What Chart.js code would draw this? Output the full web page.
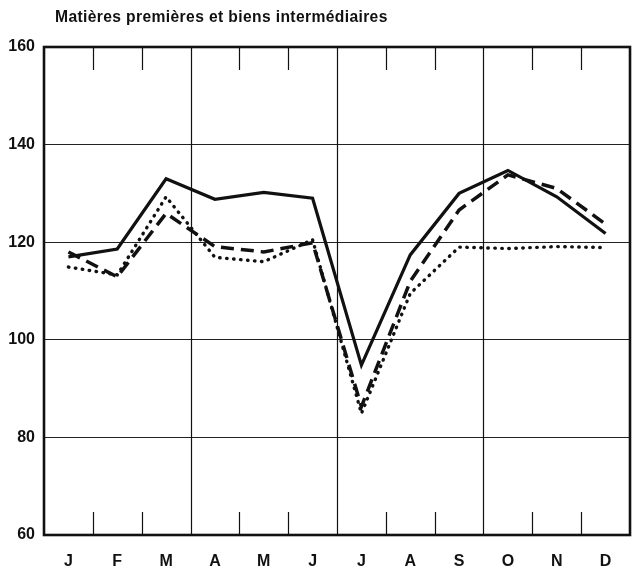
<!DOCTYPE html>
<html>
<head>
<meta charset="utf-8">
<script src="https://cdn.jsdelivr.net/npm/chart.js@4/dist/chart.umd.min.js"></script>
<style>
  html, body { margin: 0; padding: 0; background: #fff; }
  #wrap { position: relative; width: 638px; height: 566px; }
  #title {
    position: absolute; left: 55px; top: 7px;
    font: bold 17px "Liberation Sans", Arial, sans-serif;
    letter-spacing: 0.4px; color: #111;
    transform: scaleX(0.92); transform-origin: left top; white-space: nowrap;
  }
</style>
</head>
<body>
<div id="wrap">
  <div id="title">Matières premières et biens intermédiaires</div>
  <canvas id="chart" width="638" height="566"></canvas>
</div>
<script>
// months
const months = ['J', 'F', 'M', 'A', 'M', 'J', 'J', 'A', 'S', 'O', 'N', 'D'];
// series
const solidValues  = [117, 118.6, 133, 128.8, 130.2, 129, 94.8, 117.4, 130, 134.7, 129.3, 121.8];
const dashedValues = [118, 112.9, 125.9, 119.1, 118, 119.9, 86.3, 112, 126.6, 133.8, 131, 123.7];
const dottedValues = [114.9, 113.3, 129.3, 116.9, 116, 120.5, 84.9, 109.5, 119, 118.7, 119.1, 118.9];
// y ticks
const yMin = 60, yMax = 160, yStep = 20;

const tickFont = { family: '"Liberation Sans", Arial, sans-serif', size: 16, weight: 'bold' };

// frame + month boundary marks
const framePlugin = {
  id: 'frame',
  afterDatasetsDraw(chart) {
    const { ctx, chartArea: a, scales: { x } } = chart;
    ctx.save();
    ctx.strokeStyle = '#111';
    ctx.lineWidth = 1.2;
    const half = (x.getPixelForValue(1) - x.getPixelForValue(0)) / 2;
    for (let i = 1; i < months.length; i++) {
      const px = Math.round(x.getPixelForValue(i) - half) + 0.5;
      ctx.beginPath();
      if (i % 3 === 0) {
        ctx.moveTo(px, a.top); ctx.lineTo(px, a.bottom);
      } else {
        ctx.moveTo(px, a.top); ctx.lineTo(px, a.top + 23);
        ctx.moveTo(px, a.bottom); ctx.lineTo(px, a.bottom - 23);
      }
      ctx.stroke();
    }
    ctx.lineWidth = 2.6;
    ctx.strokeRect(a.left, a.top, a.right - a.left, a.bottom - a.top);
    ctx.restore();
  }
};

new Chart(document.getElementById('chart'), {
  type: 'line',
  data: {
    labels: months,
    datasets: [
      { data: solidValues, borderColor: '#111', borderWidth: 3.2, pointRadius: 0, tension: 0 },
      { data: dashedValues, borderColor: '#111', borderWidth: 3.5, borderDash: [13, 7], pointRadius: 0, tension: 0 },
      { data: dottedValues, borderColor: '#111', borderWidth: 3.4, borderDash: [0.5, 6.5], borderCapStyle: 'round', pointRadius: 0, tension: 0 }
    ]
  },
  options: {
    responsive: false,
    animation: false,
    layout: { padding: { left: 0, right: 8, top: 47, bottom: 0 } },
    plugins: { legend: { display: false }, tooltip: { enabled: false } },
    scales: {
      x: {
        offset: true,
        grid: { display: false },
        border: { display: false },
        ticks: { color: '#111', font: tickFont, padding: 9, maxRotation: 0, autoSkip: false },
        afterFit(scale) { scale.height = 31; }
      },
      y: {
        min: yMin, max: yMax,
        grid: { color: (c) => (c.tick.value === yMin || c.tick.value === yMax) ? 'transparent' : '#222', lineWidth: 1.1, drawTicks: false },
        border: { display: false },
        ticks: { stepSize: yStep, color: '#111', font: tickFont, padding: 9 },
        afterFit(scale) { scale.width = 44; }
      }
    }
  },
  plugins: [framePlugin]
});
</script>
</body>
</html>
